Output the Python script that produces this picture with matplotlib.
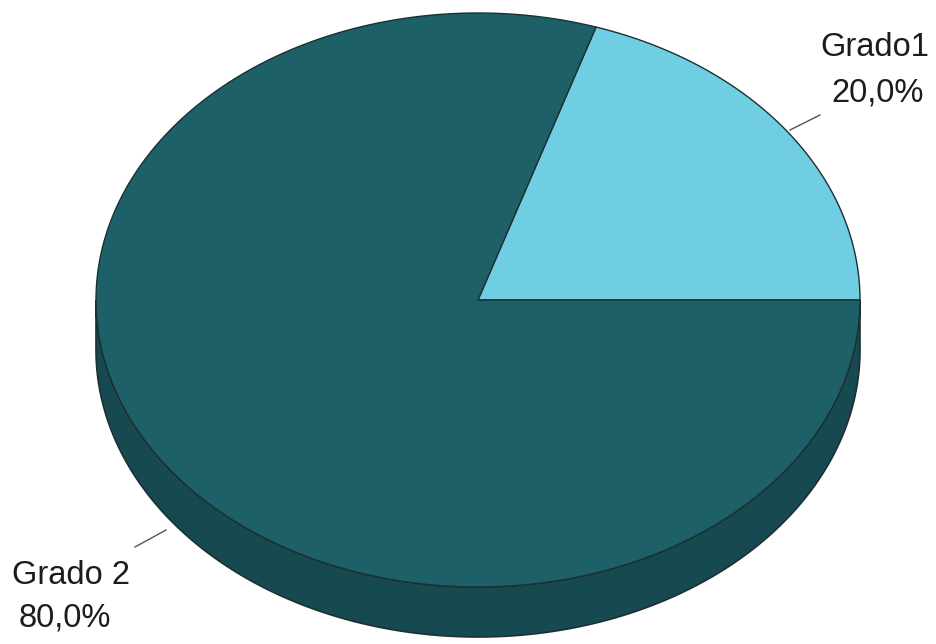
import matplotlib
matplotlib.use("Agg")
import matplotlib.pyplot as plt
import numpy as np
from matplotlib.patches import Polygon

# data
labels = ["Grado1", "Grado 2"]
values = [20.0, 80.0]
pct_text = ["20,0%", "80,0%"]

# look
top_colors = ["#70cee2", "#1e6067"]
side_colors = ["#4a9fb0", "#174a50"]
edge = "#1b3033"

CX, CY = 478, 300      # centre of the top face (pixels)
RX, RY = 382, 287      # ellipse semi axes
DEPTH = 50             # thickness of the pie


def ell(t, dy=0):
    t = np.radians(t)
    return np.column_stack([CX + RX * np.cos(t), CY - RY * np.sin(t) + dy])


fig = plt.figure(figsize=(9.36, 6.44), dpi=100)
ax = fig.add_axes([0, 0, 1, 1])
ax.set_xlim(0, 936)
ax.set_ylim(644, 0)
ax.axis("off")

# slice angles, counter clockwise from 3 o'clock
bounds = np.concatenate([[0], np.cumsum(values) / sum(values) * 360])

# side walls (only the front half, 180..360, is visible)
for i in range(len(values)):
    a0, a1 = max(bounds[i], 180), min(bounds[i + 1], 360)
    if a1 <= a0:
        continue
    t = np.linspace(a0, a1, 200)
    pts = np.vstack([ell(t), ell(t[::-1], DEPTH)])
    ax.add_patch(Polygon(pts, closed=True, fc=side_colors[i], ec=edge, lw=1.2))

# top face
for i in range(len(values)):
    t = np.linspace(bounds[i], bounds[i + 1], 300)
    pts = np.vstack([[CX, CY], ell(t)])
    ax.add_patch(Polygon(pts, closed=True, fc=top_colors[i], ec=edge, lw=1.0))

font = dict(family=["Liberation Sans", "DejaVu Sans"], fontsize=23.5, color="#1c1c1c")

# labels and leader lines
ax.plot([790, 820], [130, 115], color="#555555", lw=1)
ax.text(875, 47, labels[0], ha="center", va="center", **font)
ax.text(878, 93, pct_text[0], ha="center", va="center", **font)

ax.plot([135, 166], [547, 530], color="#555555", lw=1)
ax.text(71, 575, labels[1], ha="center", va="center", **font)
ax.text(65, 618, pct_text[1], ha="center", va="center", **font)

fig.savefig("out.png", dpi=100, facecolor="white")
